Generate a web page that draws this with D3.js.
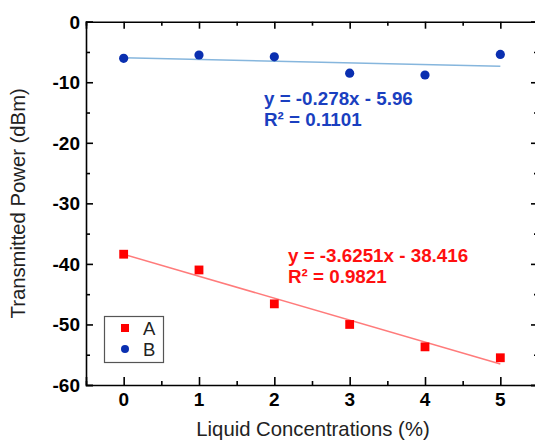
<!DOCTYPE html>
<meta charset="utf-8">
<style>
  body { margin: 0; background: #fff; }
  svg text { font-family: "Liberation Sans", Arial, sans-serif; }
  .tick-label { font-size: 19px; font-weight: bold; fill: #000; }
  .axis-title { font-size: 20.3px; fill: #222; }
  .eq { font-size: 18.8px; font-weight: bold; }
</style>
<body>
<div id="chart"></div>
<script src="https://d3js.org/d3.v7.min.js"></script>
<script>
// chart data
var concentrations = [0, 1, 2, 3, 4, 5];
var powerA = [-38.4, -41.0, -46.6, -50.0, -53.7, -55.5];
var powerB = [-6.05, -5.5, -5.8, -8.5, -8.8, -5.4];
var fitA = { slope: -3.6251, intercept: -38.416 };
var fitB = { slope: -0.278, intercept: -5.96 };
var eqA = ["y = -3.6251x - 38.416", "R\u00b2 = 0.9821"];
var eqB = ["y = -0.278x - 5.96", "R\u00b2 = 0.1101"];
var xTicks = [0, 1, 2, 3, 4, 5];
var yTicks = [0, -10, -20, -30, -40, -50, -60];

var width = 535,
    height = 443;
var plotLeft = 86, plotRight = 538, plotTop = 21.7, plotBottom = 385;

var svg = d3.select("#chart").append("svg")
    .attr("width", width)
    .attr("height", height);

var x = d3.scaleLinear().domain([-0.5, 5.5]).range([plotLeft, plotRight]);
var y = d3.scaleLinear().domain([-60, 0]).range([plotBottom, plotTop]);

var minorX = d3.range(-0.5, 5.51, 0.5).filter(function(d) { return d % 1 !== 0; });
var minorY = d3.range(-55, 0, 10);

// axes: ticks point inward on all four sides
function drawAxis(axis, transform, ticks, size) {
  var g = svg.append("g").attr("transform", transform)
      .call(axis.tickValues(ticks).tickSize(size).tickFormat(""));
  g.selectAll("path, line").attr("stroke", "#000").attr("stroke-width", 1.6);
  return g;
}
drawAxis(d3.axisBottom(x), "translate(0," + plotBottom + ")", xTicks, -8);
drawAxis(d3.axisBottom(x), "translate(0," + plotBottom + ")", minorX, -4).select(".domain").remove();
drawAxis(d3.axisTop(x), "translate(0," + plotTop + ")", xTicks, -7);
drawAxis(d3.axisTop(x), "translate(0," + plotTop + ")", minorX, -4).select(".domain").remove();
drawAxis(d3.axisLeft(y), "translate(" + plotLeft + ",0)", yTicks, -7);
drawAxis(d3.axisLeft(y), "translate(" + plotLeft + ",0)", minorY, -4).select(".domain").remove();
drawAxis(d3.axisRight(y), "translate(" + plotRight + ",0)", yTicks, -7);
drawAxis(d3.axisRight(y), "translate(" + plotRight + ",0)", minorY, -4).select(".domain").remove();

// tick labels
svg.append("g").selectAll("text")
    .data(xTicks)
  .enter().append("text")
    .attr("class", "tick-label")
    .attr("x", function(d) { return x(d); })
    .attr("y", 406)
    .attr("text-anchor", "middle")
    .text(function(d) { return d; });

svg.append("g").selectAll("text")
    .data(yTicks)
  .enter().append("text")
    .attr("class", "tick-label")
    .attr("x", 80)
    .attr("y", function(d) { return y(d) + 6.8; })
    .attr("text-anchor", "end")
    .text(function(d) { return d; });

// axis titles
svg.append("text")
    .attr("class", "axis-title")
    .attr("x", 313)
    .attr("y", 436)
    .attr("text-anchor", "middle")
    .text("Liquid Concentrations (%)");

svg.append("text")
    .attr("class", "axis-title")
    .attr("transform", "translate(25," + (plotTop + plotBottom) / 2 + ") rotate(-90)")
    .attr("text-anchor", "middle")
    .text("Transmitted Power (dBm)");

// linear fits
function fitLine(fit, color) {
  svg.append("line")
      .attr("x1", x(0)).attr("y1", y(fit.intercept))
      .attr("x2", x(5)).attr("y2", y(fit.intercept + 5 * fit.slope))
      .attr("stroke", color)
      .attr("stroke-width", 1.5);
}
fitLine(fitB, "#86b6dd");
fitLine(fitA, "#ff7b7b");

// points
svg.append("g").selectAll("rect")
    .data(concentrations)
  .enter().append("rect")
    .attr("x", function(d) { return x(d) - 4.4; })
    .attr("y", function(d, i) { return y(powerA[i]) - 4.4; })
    .attr("width", 8.8)
    .attr("height", 8.8)
    .attr("fill", "#ff0000");

svg.append("g").selectAll("circle")
    .data(concentrations)
  .enter().append("circle")
    .attr("cx", function(d) { return x(d); })
    .attr("cy", function(d, i) { return y(powerB[i]); })
    .attr("r", 4.6)
    .attr("fill", "#0a2fb0");

// equations
function equation(lines, xPos, yPos, color) {
  svg.append("g").selectAll("text")
      .data(lines)
    .enter().append("text")
      .attr("class", "eq")
      .attr("x", xPos)
      .attr("y", function(d, i) { return yPos + i * 21; })
      .attr("fill", color)
      .text(function(d) { return d; });
}
equation(eqB, 264, 105, "#1a3fc0");
equation(eqA, 288, 262, "#ff1010");

// legend
var legend = svg.append("g");
legend.append("rect")
    .attr("x", 104.5).attr("y", 316.5)
    .attr("width", 59).attr("height", 46)
    .attr("fill", "#fff")
    .attr("stroke", "#555")
    .attr("stroke-width", 1.2);
legend.append("rect")
    .attr("x", 121).attr("y", 324)
    .attr("width", 8).attr("height", 8)
    .attr("fill", "#ff0000");
legend.append("circle")
    .attr("cx", 125).attr("cy", 349)
    .attr("r", 4)
    .attr("fill", "#0a2fb0");
legend.selectAll("text.leg")
    .data(["A", "B"])
  .enter().append("text")
    .attr("class", "leg")
    .attr("x", 143)
    .attr("y", function(d, i) { return 334.5 + i * 21.5; })
    .attr("font-size", "18.5px")
    .attr("fill", "#222")
    .text(function(d) { return d; });
</script>
</body>
